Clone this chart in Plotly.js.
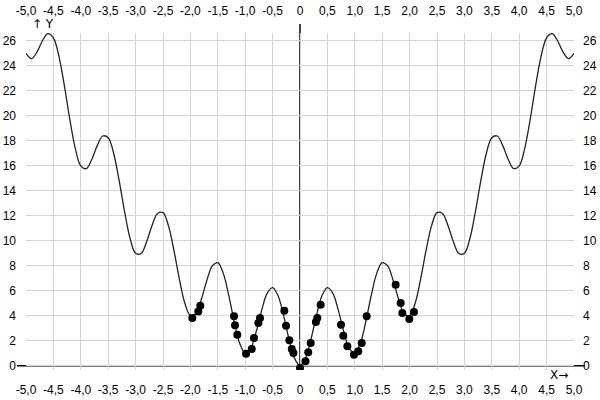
<!DOCTYPE html>
<html><head><meta charset="utf-8">
<script src="https://cdn.plot.ly/plotly-3.0.1.min.js"></script>
<style>body{margin:0;background:#fff}#c{width:600px;height:400px}</style>
</head><body><div id="c"></div>
<script>
// Curve samples
const curveX = [-5.0,-4.9,-4.8,-4.7,-4.6,-4.5,-4.4,-4.3,-4.2,-4.1,-4.0,-3.9,-3.8,-3.7,-3.6,-3.5,-3.4,-3.3,-3.2,-3.1,-3.0,-2.9,-2.8,-2.7,-2.6,-2.5,-2.4,-2.3,-2.2,-2.1,-2.0,-1.9,-1.8,-1.7,-1.6,-1.5,-1.4,-1.3,-1.2,-1.1,-1.0,-0.9,-0.8,-0.7,-0.6,-0.5,-0.4,-0.3,-0.2,-0.1,0.0,0.1,0.2,0.3,0.4,0.5,0.6,0.7,0.8,0.9,1.0,1.1,1.2,1.3,1.4,1.5,1.6,1.7,1.8,1.9,2.0,2.1,2.2,2.3,2.4,2.5,2.6,2.7,2.8,2.9,3.0,3.1,3.2,3.3,3.4,3.5,3.6,3.7,3.8,3.9,4.0,4.1,4.2,4.3,4.4,4.5,4.6,4.7,4.8,4.9,5.0];
const curveY = [25.00,24.58,25.11,26.02,26.59,26.25,24.79,22.42,19.71,17.38,16.00,15.78,16.51,17.62,18.39,18.25,16.99,14.82,12.31,10.18,9.00,8.98,9.91,11.22,12.19,12.25,11.19,9.22,6.91,4.98,4.00,4.18,5.31,6.82,7.99,8.25,7.39,5.62,3.51,1.78,1.00,1.38,2.71,4.42,5.79,6.25,5.59,4.02,2.11,0.58,0.00,0.58,2.11,4.02,5.59,6.25,5.79,4.42,2.71,1.38,1.00,1.78,3.51,5.62,7.39,8.25,7.99,6.82,5.31,4.18,4.00,4.98,6.91,9.22,11.19,12.25,12.19,11.22,9.91,8.98,9.00,10.18,12.31,14.82,16.99,18.25,18.39,17.62,16.51,15.78,16.00,17.38,19.71,22.42,24.79,26.25,26.59,26.02,25.11,24.58,25.00];

// Sample points
const ptsX = [-1.965,-1.856,-1.819,-1.204,-1.186,-1.144,-0.985,-0.88,-0.84,-0.76,-0.73,-0.286,-0.255,-0.195,-0.15,-0.12,0.0,0.1,0.15,0.195,0.29,0.316,0.377,0.748,0.79,0.864,0.985,1.064,1.126,1.217,1.746,1.837,1.867,1.995,2.08];
const ptsY = [3.81,4.34,4.80,3.95,3.23,2.48,0.96,1.33,2.21,3.41,3.81,4.40,3.20,2.03,1.33,1.01,-0.19,0.35,1.07,1.81,3.49,3.81,4.88,3.28,2.40,1.55,0.88,1.15,1.81,3.95,6.48,5.01,4.21,3.73,4.29];

const xTickVals = [-5,-4.5,-4,-3.5,-3,-2.5,-2,-1.5,-1,-0.5,0,0.5,1,1.5,2,2.5,3,3.5,4,4.5,5];
const xTickText = ["-5,0","-4,5","-4,0","-3,5","-3,0","-2,5","-2,0","-1,5","-1,0","-0,5","0","0,5","1,0","1,5","2,0","2,5","3,0","3,5","4,0","4,5","5,0"];
const yTickVals = [0,2,4,6,8,10,12,14,16,18,20,22,24,26];

const font = {family: "Liberation Sans, Arial, sans-serif", size: 12, color: "#000"};
const arrowFont = {family: "DejaVu Sans, Liberation Sans, sans-serif", size: 12, color: "#000"};
const grid = "#d3d3d3";
const yMin = -0.35, yMax = 26.64;

const traces = [
  {x: curveX, y: curveY, mode: "lines", line: {color: "#222", width: 1.3, shape: "spline", smoothing: 1}, hoverinfo: "skip"},
  {x: ptsX, y: ptsY, mode: "markers", marker: {color: "#000", size: 8}},
  {x: [0], y: [0], xaxis: "x2", yaxis: "y2", mode: "markers", marker: {opacity: 0}, hoverinfo: "skip"}
];

const xCommon = {range: [-5, 5], tickvals: xTickVals, ticktext: xTickText, showgrid: true, gridcolor: grid, gridwidth: 1, zeroline: false, showline: false, ticks: "", tickfont: font, fixedrange: true};
const yCommon = {range: [yMin, yMax], tickvals: yTickVals, showgrid: true, gridcolor: grid, gridwidth: 1, zeroline: false, showline: false, ticks: "", tickfont: font, fixedrange: true};

const layout = {
  width: 600, height: 400,
  margin: {l: 26, r: 26, t: 33, b: 29.6, pad: 0},
  paper_bgcolor: "#fff", plot_bgcolor: "#fff",
  showlegend: false,
  font: font,
  xaxis: Object.assign({}, xCommon, {side: "bottom", ticklabelstandoff: 11}),
  xaxis2: Object.assign({}, xCommon, {side: "top", overlaying: "x", matches: "x", showgrid: false, ticklabelstandoff: 15}),
  yaxis: Object.assign({}, yCommon, {side: "left", ticklabelstandoff: 9}),
  yaxis2: Object.assign({}, yCommon, {side: "right", overlaying: "y", matches: "y", showgrid: false, ticklabelstandoff: 8}),
  shapes: [
    {type: "rect", xref: "paper", yref: "y", x0: 0, x1: 1, y0: yMin, y1: 0, fillcolor: "#fff", line: {width: 0}, layer: "between"},
    {type: "line", xref: "paper", yref: "y", x0: -0.0164, x1: 1.020, y0: 0, y1: 0, line: {color: "#000", width: 1.5}, layer: "between"},
    {type: "line", xref: "x", yref: "paper", x0: 0, x1: 0, y0: 0.0, y1: 1.027, line: {color: "#000", width: 1.5}, layer: "between"}
  ],
  annotations: [
    {text: "↑ Y", xref: "paper", yref: "paper", x: 0.008, y: 1.027, xanchor: "left", yanchor: "middle", showarrow: false, font: arrowFont},
    {text: "X→", xref: "paper", yref: "paper", x: 0.993, y: -0.0136, xanchor: "right", yanchor: "middle", showarrow: false, font: arrowFont}
  ]
};

Plotly.newPlot("c", traces, layout, {staticPlot: true, displayModeBar: false});
</script>
</body></html>
